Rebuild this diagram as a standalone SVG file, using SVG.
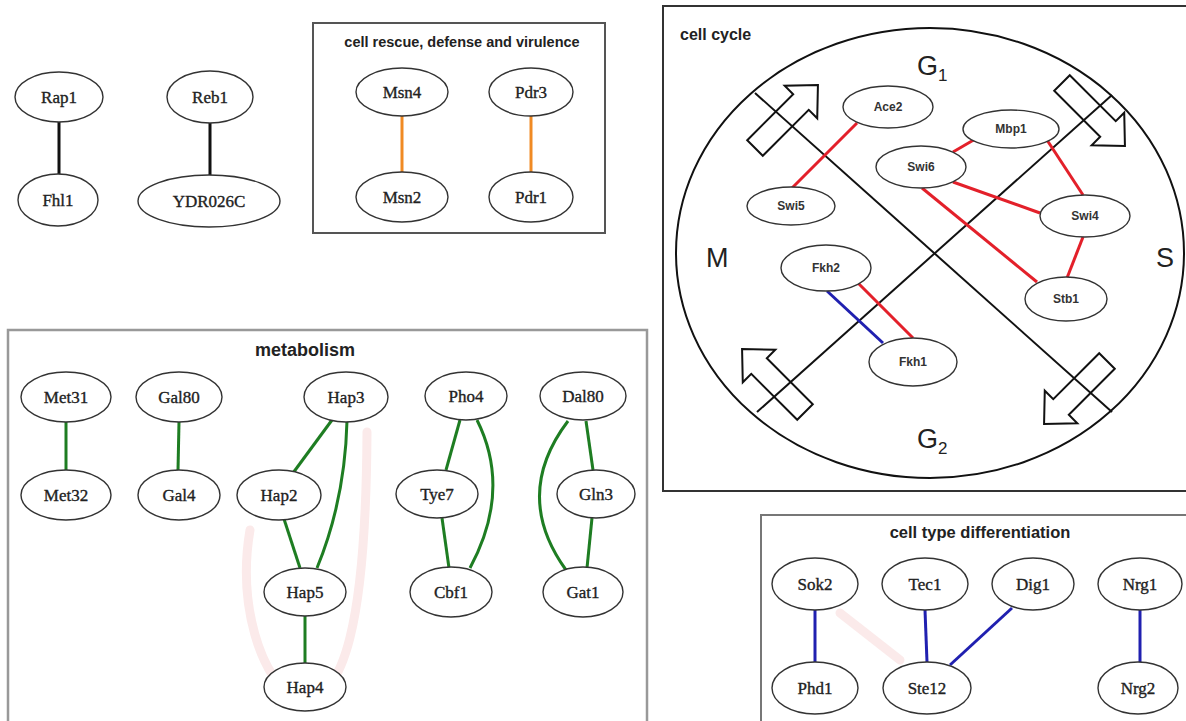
<svg xmlns="http://www.w3.org/2000/svg" width="1186" height="721" viewBox="0 0 1186 721">
<style>
.nd{fill:#fff;stroke:#333;stroke-width:1.4}
.tn{font-family:"Liberation Serif","Times New Roman",serif;font-size:17px;fill:#222;text-anchor:middle;stroke:#222;stroke-width:0.35}
.tc{font-family:"Liberation Sans",Arial,sans-serif;font-size:12px;font-weight:bold;fill:#333;text-anchor:middle}
.ttl{font-family:"Liberation Sans",Arial,sans-serif;font-weight:bold;fill:#222;text-anchor:middle}
.phase{font-family:"Liberation Sans",Arial,sans-serif;font-size:27px;fill:#222}
.blk{stroke:#111;stroke-width:3;stroke-linecap:round}
.org{stroke:#f08a24;stroke-width:3}
.grn{stroke:#1e7d22;stroke-width:3;fill:none}
.red{stroke:#e3202a;stroke-width:3;fill:none}
.blu{stroke:#2020b0;stroke-width:3;fill:none}
.ghost{stroke:#fbeaea;stroke-width:9;fill:none;stroke-linecap:round}
.arr{fill:none;stroke:#111;stroke-width:2}
</style>
<defs>
<path id="blockarrow" d="M0,-11 H65 V-23 L89,0 L65,23 V11 H0 Z"/>
</defs>
<rect width="1186" height="721" fill="#fff"/>

<!-- boxes -->
<g id="boxes" fill="none">
<rect x="313" y="23" width="292" height="210" stroke="#555" stroke-width="2"/>
<rect x="663" y="6" width="540" height="485" stroke="#333" stroke-width="2"/>
<rect x="8" y="330" width="639" height="410" stroke="#999" stroke-width="2.5"/>
<rect x="761" y="515" width="440" height="220" stroke="#777" stroke-width="2"/>
</g>
<g id="titles">
<text class="ttl" x="462" y="47" font-size="14.5">cell rescue, defense and virulence</text>
<text class="ttl" x="680" y="40" font-size="16" style="text-anchor:start">cell cycle</text>
<text class="ttl" x="305" y="356" font-size="18">metabolism</text>
<text class="ttl" x="980" y="538" font-size="16.5">cell type differentiation</text>
</g>

<!-- cell cycle diagram -->
<g id="cycle">
<ellipse cx="930" cy="253" rx="254" ry="225" fill="none" stroke="#111" stroke-width="2"/>
<line x1="755" y1="93" x2="1112" y2="412" stroke="#111" stroke-width="2"/>
<line x1="757" y1="412" x2="1112" y2="95" stroke="#111" stroke-width="2"/>
<use href="#blockarrow" class="arr" transform="translate(755,148) rotate(-45)"/>
<use href="#blockarrow" class="arr" transform="translate(1062,83) rotate(45)"/>
<use href="#blockarrow" class="arr" transform="translate(1107,361) rotate(135)"/>
<use href="#blockarrow" class="arr" transform="translate(805,412) rotate(-135)"/>
<text class="phase" x="917" y="75">G<tspan font-size="17" dy="6">1</tspan></text>
<text class="phase" x="917" y="448">G<tspan font-size="17" dy="6">2</tspan></text>
<text class="phase" x="706" y="267">M</text>
<text class="phase" x="1156" y="267">S</text>
</g>

<!-- ghost smears -->
<g id="ghosts">
<path class="ghost" d="M250 530 C238 600 258 680 300 702 C345 702 366 620 367 432"/>
<path class="ghost" d="M840 613 L900 660"/>
</g>

<!-- connectors -->
<g id="connectors">
<line class="blk" x1="59" y1="122" x2="59" y2="174"/>
<line class="blk" x1="210" y1="123" x2="210" y2="175"/>
<line class="org" x1="402" y1="116" x2="402" y2="172"/>
<line class="org" x1="531" y1="116" x2="531" y2="172"/>

<line class="grn" x1="66" y1="422" x2="66" y2="470"/>
<line class="grn" x1="179" y1="422" x2="178" y2="470"/>
<line class="grn" x1="332" y1="420" x2="293" y2="473"/>
<path class="grn" d="M347 421 Q345 500 317 568"/>
<line class="grn" x1="284" y1="519" x2="300" y2="568"/>
<line class="grn" x1="305" y1="616" x2="305" y2="663"/>
<line class="grn" x1="460" y1="420" x2="446" y2="470"/>
<line class="grn" x1="442" y1="518" x2="449" y2="568"/>
<path class="grn" d="M477 420 Q512 490 470 568"/>
<line class="grn" x1="586" y1="421" x2="593" y2="470"/>
<line class="grn" x1="592" y1="518" x2="587" y2="568"/>
<path class="grn" d="M568 421 Q512 495 566 570"/>

<line class="red" x1="857" y1="123" x2="792" y2="188"/>
<line class="red" x1="977" y1="138" x2="953" y2="152"/>
<line class="red" x1="1047" y1="140" x2="1083" y2="195"/>
<line class="red" x1="953" y1="182" x2="1040" y2="213"/>
<line class="red" x1="922" y1="188" x2="1037" y2="282"/>
<line class="red" x1="1083" y1="237" x2="1067" y2="278"/>
<line class="red" x1="858" y1="283" x2="913" y2="338"/>
<line class="blu" x1="827" y1="291" x2="883" y2="343"/>

<line class="blu" x1="815" y1="610" x2="815" y2="662"/>
<line class="blu" x1="925" y1="610" x2="927" y2="662"/>
<line class="blu" x1="1012" y1="608" x2="950" y2="665"/>
<line class="blu" x1="1140" y1="610" x2="1140" y2="662"/>
</g>

<!-- nodes: top-left -->
<g id="n-rap1"><ellipse class="nd" cx="59" cy="97" rx="44" ry="25"/><text class="tn" x="59" y="103">Rap1</text></g>
<g id="n-fhl1"><ellipse class="nd" cx="58" cy="200" rx="40" ry="26"/><text class="tn" x="58" y="206">Fhl1</text></g>
<g id="n-reb1"><ellipse class="nd" cx="210" cy="97" rx="43" ry="26"/><text class="tn" x="210" y="103">Reb1</text></g>
<g id="n-ydr026c"><ellipse class="nd" cx="209" cy="201" rx="71" ry="26"/><text class="tn" x="209" y="207">YDR026C</text></g>

<!-- cell rescue -->
<g id="n-msn4"><ellipse class="nd" cx="402" cy="92" rx="46" ry="24"/><text class="tn" x="402" y="98">Msn4</text></g>
<g id="n-msn2"><ellipse class="nd" cx="402" cy="197" rx="46" ry="25"/><text class="tn" x="402" y="203">Msn2</text></g>
<g id="n-pdr3"><ellipse class="nd" cx="531" cy="92" rx="42" ry="24"/><text class="tn" x="531" y="98">Pdr3</text></g>
<g id="n-pdr1"><ellipse class="nd" cx="531" cy="197" rx="42" ry="25"/><text class="tn" x="531" y="203">Pdr1</text></g>

<!-- cell cycle nodes -->
<g id="n-ace2"><ellipse class="nd" cx="888" cy="107" rx="45" ry="21"/><text class="tc" x="888" y="111">Ace2</text></g>
<g id="n-mbp1"><ellipse class="nd" cx="1011" cy="129" rx="48" ry="19"/><text class="tc" x="1011" y="133">Mbp1</text></g>
<g id="n-swi6"><ellipse class="nd" cx="921" cy="167" rx="45" ry="21"/><text class="tc" x="921" y="171">Swi6</text></g>
<g id="n-swi5"><ellipse class="nd" cx="791" cy="206" rx="44" ry="19"/><text class="tc" x="791" y="210">Swi5</text></g>
<g id="n-swi4"><ellipse class="nd" cx="1085" cy="216" rx="45" ry="21"/><text class="tc" x="1085" y="220">Swi4</text></g>
<g id="n-fkh2"><ellipse class="nd" cx="826" cy="268" rx="45" ry="23"/><text class="tc" x="826" y="272">Fkh2</text></g>
<g id="n-stb1"><ellipse class="nd" cx="1066" cy="299" rx="41" ry="22"/><text class="tc" x="1066" y="303">Stb1</text></g>
<g id="n-fkh1"><ellipse class="nd" cx="913" cy="362" rx="44" ry="24"/><text class="tc" x="913" y="366">Fkh1</text></g>

<!-- metabolism nodes -->
<g id="n-met31"><ellipse class="nd" cx="66" cy="397" rx="45" ry="25"/><text class="tn" x="66" y="403">Met31</text></g>
<g id="n-met32"><ellipse class="nd" cx="66" cy="495" rx="45" ry="25"/><text class="tn" x="66" y="501">Met32</text></g>
<g id="n-gal80"><ellipse class="nd" cx="179" cy="397" rx="43" ry="25"/><text class="tn" x="179" y="403">Gal80</text></g>
<g id="n-gal4"><ellipse class="nd" cx="179" cy="495" rx="41" ry="25"/><text class="tn" x="179" y="501">Gal4</text></g>
<g id="n-hap3"><ellipse class="nd" cx="346" cy="397" rx="42" ry="25"/><text class="tn" x="346" y="403">Hap3</text></g>
<g id="n-hap2"><ellipse class="nd" cx="279" cy="495" rx="42" ry="25"/><text class="tn" x="279" y="501">Hap2</text></g>
<g id="n-hap5"><ellipse class="nd" cx="305" cy="592" rx="41" ry="24"/><text class="tn" x="305" y="598">Hap5</text></g>
<g id="n-hap4"><ellipse class="nd" cx="305" cy="687" rx="41" ry="24"/><text class="tn" x="305" y="693">Hap4</text></g>
<g id="n-pho4"><ellipse class="nd" cx="466" cy="396" rx="41" ry="24"/><text class="tn" x="466" y="402">Pho4</text></g>
<g id="n-tye7"><ellipse class="nd" cx="437" cy="494" rx="41" ry="24"/><text class="tn" x="437" y="500">Tye7</text></g>
<g id="n-cbf1"><ellipse class="nd" cx="451" cy="592" rx="41" ry="25"/><text class="tn" x="451" y="598">Cbf1</text></g>
<g id="n-dal80"><ellipse class="nd" cx="583" cy="396" rx="43" ry="24"/><text class="tn" x="583" y="402">Dal80</text></g>
<g id="n-gln3"><ellipse class="nd" cx="596" cy="494" rx="39" ry="24"/><text class="tn" x="596" y="500">Gln3</text></g>
<g id="n-gat1"><ellipse class="nd" cx="583" cy="592" rx="40" ry="25"/><text class="tn" x="583" y="598">Gat1</text></g>

<!-- cell type differentiation nodes -->
<g id="n-sok2"><ellipse class="nd" cx="815" cy="584" rx="43" ry="26"/><text class="tn" x="815" y="590">Sok2</text></g>
<g id="n-phd1"><ellipse class="nd" cx="815" cy="688" rx="43" ry="26"/><text class="tn" x="815" y="694">Phd1</text></g>
<g id="n-tec1"><ellipse class="nd" cx="925" cy="584" rx="43" ry="26"/><text class="tn" x="925" y="590">Tec1</text></g>
<g id="n-ste12"><ellipse class="nd" cx="927" cy="688" rx="44" ry="26"/><text class="tn" x="927" y="694">Ste12</text></g>
<g id="n-dig1"><ellipse class="nd" cx="1033" cy="584" rx="41" ry="26"/><text class="tn" x="1033" y="590">Dig1</text></g>
<g id="n-nrg1"><ellipse class="nd" cx="1140" cy="584" rx="42" ry="26"/><text class="tn" x="1140" y="590">Nrg1</text></g>
<g id="n-nrg2"><ellipse class="nd" cx="1138" cy="688" rx="40" ry="26"/><text class="tn" x="1138" y="694">Nrg2</text></g>
</svg>
